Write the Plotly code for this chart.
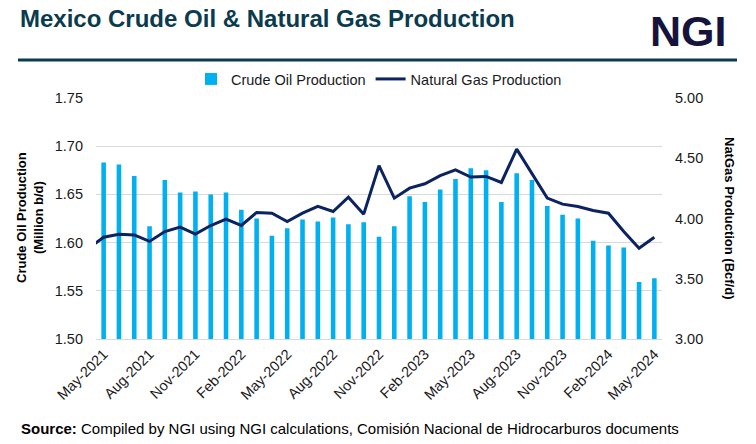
import plotly.graph_objects as go

# ---- data ----
months = ["Apr-2021",
          "May-2021", "Jun-2021", "Jul-2021", "Aug-2021", "Sep-2021", "Oct-2021", "Nov-2021", "Dec-2021",
          "Jan-2022", "Feb-2022", "Mar-2022", "Apr-2022", "May-2022", "Jun-2022", "Jul-2022", "Aug-2022",
          "Sep-2022", "Oct-2022", "Nov-2022", "Dec-2022", "Jan-2023", "Feb-2023", "Mar-2023", "Apr-2023",
          "May-2023", "Jun-2023", "Jul-2023", "Aug-2023", "Sep-2023", "Oct-2023", "Nov-2023", "Dec-2023",
          "Jan-2024", "Feb-2024", "Mar-2024", "Apr-2024", "May-2024"]
oil_months = months[1:]
crude_oil = [1.683, 1.681, 1.669, 1.617, 1.665, 1.652, 1.653, 1.650,
             1.652, 1.634, 1.625, 1.607, 1.615, 1.624, 1.622, 1.626,
             1.619, 1.621, 1.606, 1.617, 1.648, 1.642, 1.655, 1.666,
             1.677, 1.675, 1.642, 1.672, 1.665, 1.638, 1.629, 1.625,
             1.602, 1.597, 1.595, 1.559, 1.563]
nat_gas = [3.75,
           3.845, 3.87, 3.864, 3.81, 3.892, 3.928, 3.87, 3.942,
           3.994, 3.942, 4.05, 4.044, 3.975, 4.044, 4.10, 4.058,
           4.177, 4.036, 4.438, 4.169, 4.252, 4.288, 4.355, 4.404,
           4.344, 4.349, 4.299, 4.576, 4.377, 4.169, 4.119, 4.10,
           4.067, 4.044, 3.892, 3.753, 3.845]
tick_labels = oil_months[::3]

# ---- layout helpers (pixel -> paper) ----
W, H = 756, 444
L, R, T, B = 96, 94, 98, 105
PW, PH = W - L - R, H - T - B
def px(x):
    return (x - L) / PW
def py(y):
    return (H - B - y) / PH

FONT = "Liberation Sans, Arial, sans-serif"
BAR_C = "#00b0f0"
LINE_C = "#0c2361"
TITLE_C = "#0a3b4f"

fig = go.Figure()
fig.add_trace(go.Bar(x=oil_months, y=crude_oil, name="Crude Oil Production",
                     marker=dict(color=BAR_C, line=dict(width=0)), width=0.3,
                     yaxis="y"))
fig.add_trace(go.Scatter(x=months, y=nat_gas, name="Natural Gas Production",
                         mode="lines", line=dict(color=LINE_C, width=3),
                         yaxis="y2"))

fig.update_layout(
    width=W, height=H,
    margin=dict(l=L, r=R, t=T, b=B, autoexpand=False),
    paper_bgcolor="white", plot_bgcolor="white",
    font=dict(family=FONT, size=14, color="#1a1a1a"),
    showlegend=True,
    legend=dict(orientation="h", x=0.5, xanchor="center", y=py(79), yanchor="middle",
                font=dict(size=14.5, color="#1a1a1a"), itemwidth=30,
                bgcolor="rgba(0,0,0,0)"),
    xaxis=dict(type="category", categoryorder="array", categoryarray=months,
               range=[0.5, len(months) - 0.5],
               tickmode="array", tickvals=tick_labels, ticktext=tick_labels,
               tickangle=-45, showgrid=False, showline=True, linecolor="#d9d9d9",
               linewidth=1, ticks="", tickfont=dict(size=14.5), zeroline=False),
    yaxis=dict(range=[1.5, 1.75], dtick=0.05, tick0=1.5, tickformat=".2f",
               showgrid=True, gridcolor="#d9d9d9", gridwidth=1, zeroline=False,
               ticks="", ticklabelstandoff=12, tickfont=dict(size=14.5)),
    yaxis2=dict(range=[3.0, 5.0], dtick=0.5, tick0=3.0, tickformat=".2f",
                overlaying="y", side="right", showgrid=False, zeroline=False,
                ticks="", ticklabelstandoff=12, tickfont=dict(size=14.5)),
)

annotations = [
    dict(text="<b>Mexico Crude Oil & Natural Gas Production</b>", x=px(18), y=py(18),
         xanchor="left", yanchor="middle",
         font=dict(size=24, color=TITLE_C, family=FONT)),
    dict(text="<b>NGI</b>", x=px(728), y=py(31), xanchor="right", yanchor="middle",
         font=dict(size=43, color="#16143d", family=FONT)),
    dict(text="<b>Crude Oil Production<br>(Million b/d)</b>", x=px(30), y=py(218),
         xanchor="center", yanchor="middle", textangle=-90,
         font=dict(size=13, color="#000000", family=FONT)),
    dict(text="<b>NatGas Production (Bcf/d)</b>", x=px(730), y=py(218),
         xanchor="center", yanchor="middle", textangle=90,
         font=dict(size=13, color="#000000", family=FONT)),
    dict(text="<b>Source:</b> Compiled by NGI using NGI calculations, Comisión Nacional de Hidrocarburos documents",
         x=px(19), y=py(428), xanchor="left", yanchor="middle",
         font=dict(size=15, color="#000000", family=FONT)),
]
for a in annotations:
    a.update(xref="paper", yref="paper", showarrow=False)
fig.update_layout(annotations=annotations)
fig.add_shape(type="line", xref="paper", yref="paper", x0=px(18), x1=px(737),
              y0=py(60), y1=py(60), line=dict(color=TITLE_C, width=3))

fig.write_html("out.html", config={"displayModeBar": False},
               post_script="document.body.style.margin='0';")
